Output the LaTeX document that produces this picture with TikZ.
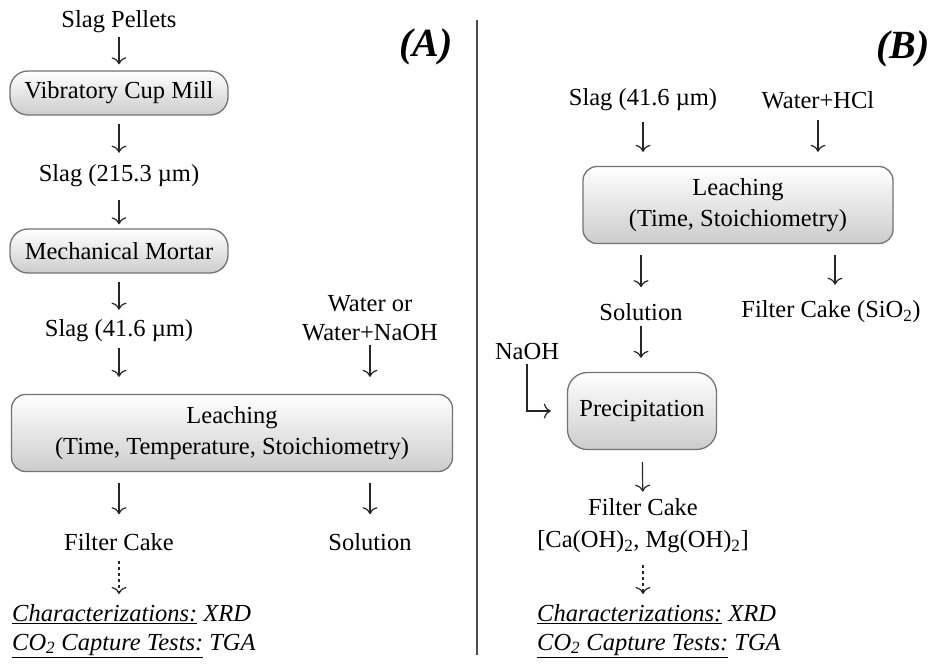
\documentclass[tikz,border=0pt]{standalone}
\usepackage{fontspec}
\setmainfont{Liberation Serif}
\usetikzlibrary{arrows.meta}
\tikzset{
  proc/.style={draw=black!55, line width=1.3pt, rounded corners=14pt,
               top color=white, bottom color=black!20, align=center, inner sep=2pt},
  lbl/.style={align=center, inner sep=2pt},
  flow/.style={-{To[length=7pt,width=15pt]}, line width=1.2pt, black!85},
  flowdash/.style={flow, dash pattern=on 3pt off 3pt},
  panel/.style={font=\fontsize{40}{40}\selectfont\bfseries\itshape, inner sep=0pt},
  tests/.style={align=left, inner sep=2pt, anchor=north west, font=\fontsize{24.5}{29}\selectfont\itshape},
}
\begin{document}
\begin{tikzpicture}[x=1pt, y=-1pt, font=\fontsize{24.5}{30}\selectfont]
\useasboundingbox (0,0) rectangle (933,664);
% (A) grinding and leaching
\node[panel] (labA) at (426,47) {(A)};
\node[lbl] (pellets) at (119,22) {Slag Pellets};
\node[proc, minimum width=218pt, minimum height=44pt, rounded corners=18pt] (mill) at (119,93) {Vibratory Cup Mill};
\node[lbl] (slagA) at (119,176) {Slag (215.3 µm)};
\node[proc, minimum width=218pt, minimum height=44pt, rounded corners=18pt] (mortar) at (119,251) {Mechanical Mortar};
\node[lbl] (slagB) at (119,331) {Slag (41.6 µm)};
\node[lbl, font=\fontsize{24.5}{29}\selectfont] (water) at (370,318) {Water or\\Water+NaOH};
\node[proc, minimum width=441pt, minimum height=77pt, font=\fontsize{24.5}{31}\selectfont] (leachA) at (232,433)
  {Leaching\\(Time, Temperature, Stoichiometry)};
\node[lbl] (cakeA) at (119,542) {Filter Cake};
\node[lbl] (solA) at (370,542) {Solution};
\node[tests] (testsA) at (10,602)
  {\underline{Characterizations:} XRD\\\underline{CO\textsubscript{2} Capture Tests:} TGA};
\draw[flow, shorten <=2pt, shorten >=6pt] (pellets) -- (mill);
\draw[flow, shorten <=8pt, shorten >=10pt] (mill) -- (slagA);
\draw[flow, shorten <=11pt, shorten >=4pt] (slagA) -- (mortar);
\draw[flow, shorten <=8pt, shorten >=8pt] (mortar) -- (slagB);
\draw[flow, shorten <=4pt, shorten >=17pt] (slagB) -- (slagB |- leachA.north);
\draw[flow, shorten <=2pt, shorten >=17pt] (water) -- (water |- leachA.north);
\draw[flow, shorten <=11pt, shorten >=17pt] (cakeA |- leachA.south) -- (cakeA);
\draw[flow, shorten <=11pt, shorten >=17pt] (solA |- leachA.south) -- (solA);
\draw[flowdash, shorten <=8pt, shorten >=8pt] (cakeA) -- (cakeA |- testsA.north);
% divider
\draw[line width=2pt, black!70] (477,20) -- (477,655);
% (B) acid leaching and precipitation
\node[panel] (labB) at (903,49) {(B)};
\node[lbl] (slagC) at (643,100) {Slag (41.6 µm)};
\node[lbl] (hcl) at (818,100) {Water+HCl};
\node[proc, minimum width=310pt, minimum height=77pt, font=\fontsize{24.5}{31}\selectfont] (leachB) at (738,205)
  {Leaching\\(Time, Stoichiometry)};
\node[lbl] (solB) at (641,312) {Solution};
\node[lbl] (cakeB) at (831,312) {Filter Cake (SiO\textsubscript{2})};
\node[lbl] (naoh) at (527,352) {NaOH};
\node[proc, minimum width=149pt, minimum height=77pt, rounded corners=20pt] (precip) at (642,411) {Precipitation};
\node[lbl, font=\fontsize{24.5}{32}\selectfont] (cakeC) at (643,526)
  {Filter Cake\\{[}Ca(OH)\textsubscript{2}, Mg(OH)\textsubscript{2}{]}};
\node[tests] (testsB) at (535,602)
  {\underline{Characterizations:} XRD\\\underline{CO\textsubscript{2} Capture Tests:} TGA};
\draw[flow, shorten <=9pt, shorten >=14pt] (slagC) -- (slagC |- leachB.north);
\draw[flow, shorten <=9pt, shorten >=14pt] (hcl) -- (hcl |- leachB.north);
\draw[flow, shorten <=11pt, shorten >=14pt] (solB |- leachB.south) -- (solB);
\draw[flow, shorten <=11pt, shorten >=14pt] ([xshift=4pt]cakeB.north |- leachB.south) -- ([xshift=4pt]cakeB.north);
\draw[flow, shorten <=3pt, shorten >=14pt] (solB) -- (solB |- precip.north);
\draw[flow, shorten <=2pt, shorten >=16pt] (naoh) |- (precip.west);
\draw[flow, shorten <=12pt, shorten >=5pt] (precip) -- (cakeC);
\draw[flowdash, shorten <=10pt, shorten >=8pt] (cakeC) -- (cakeC |- testsB.north);
\end{tikzpicture}
\end{document}
